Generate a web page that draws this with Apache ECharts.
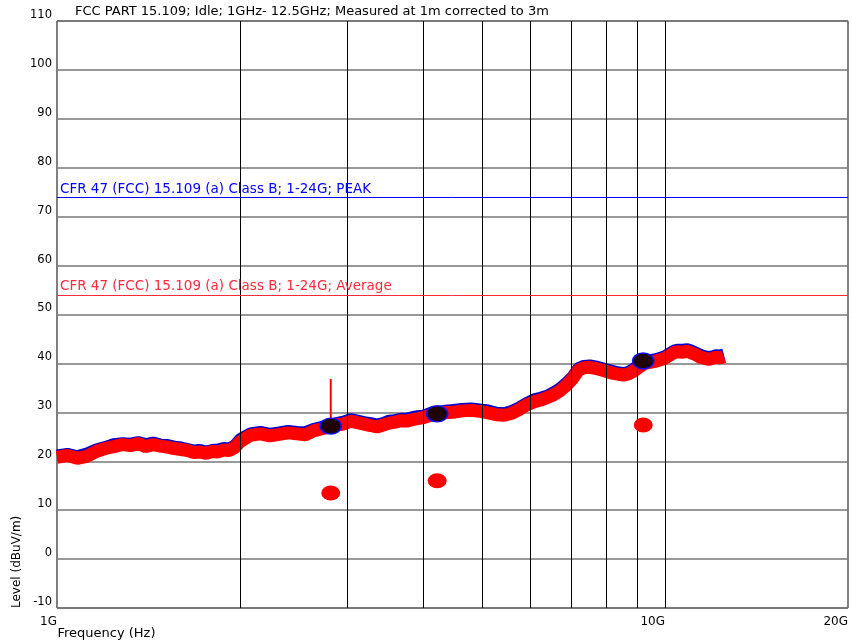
<!DOCTYPE html>
<html><head><meta charset="utf-8">
<script src="https://cdn.jsdelivr.net/npm/echarts@6/dist/echarts.min.js"></script>
<style>html,body{margin:0;padding:0;background:#fff}#c{width:852px;height:640px}</style>
</head><body><div id="c"></div>
<script>
const titleText = 'FCC PART 15.109; Idle; 1GHz- 12.5GHz; Measured at 1m corrected to 3m';
const freqGHz = [
  1.00,1.04,1.08,1.12,1.16,1.20,1.24,1.28,1.32,1.36,1.40,1.44,1.48,1.52,1.56,1.60,1.64,1.68,1.72,1.76,1.80,1.84,1.88,1.92,1.96,2.00,
  2.08,2.16,2.24,2.32,2.40,2.48,2.56,2.64,2.72,2.80,2.88,2.96,3.04,3.12,3.20,3.28,3.36,3.44,3.52,3.60,3.68,3.76,3.84,3.92,4.00,
  4.16,4.32,4.48,4.64,4.80,4.96,5.12,5.28,5.44,5.60,5.76,5.92,6.08,6.24,6.40,6.56,6.72,6.88,7.04,7.20,7.36,7.52,7.68,7.84,8.00,
  8.18,8.36,8.54,8.72,8.90,9.08,9.26,9.44,9.62,9.80,9.98,10.16,10.34,10.52,10.70,10.88,11.06,11.24,11.42,11.60,11.78,11.96,12.14,12.32,12.50
];
const peakScan = [
  21.2,21.5,21.0,21.6,22.4,22.9,23.5,23.7,23.6,23.9,23.5,23.8,23.4,23.3,23.0,22.8,22.5,22.2,22.3,22.0,22.3,22.4,22.7,22.6,23.2,24.5,
  25.7,26.0,25.6,25.9,26.2,26.0,25.9,26.6,27.0,27.4,27.8,28.1,28.6,28.3,28.0,27.8,27.5,27.8,28.3,28.4,28.7,28.7,29.0,29.2,29.3,
  30.1,30.3,30.5,30.7,30.8,30.6,30.4,29.9,29.8,30.3,31.0,31.9,32.6,33.0,33.4,34.1,34.9,36.0,37.2,39.0,39.5,39.6,39.4,39.1,38.8,
  38.5,38.2,38.0,38.3,39.0,39.7,40.4,40.6,40.8,41.1,41.4,42.0,42.6,42.8,42.8,42.9,42.6,42.2,41.8,41.5,41.3,41.4,41.7,41.6,41.8
];
const avgScan = [
  20.8,21.2,20.6,21.0,22.0,22.6,23.0,23.4,23.2,23.6,23.0,23.4,23.1,22.9,22.6,22.4,22.2,21.8,21.9,21.6,22.0,21.9,22.3,22.2,22.8,24.0,
  25.3,25.6,25.2,25.5,25.8,25.6,25.4,26.2,26.6,27.0,27.4,27.6,28.2,27.9,27.6,27.3,27.0,27.4,27.8,28.0,28.3,28.2,28.5,28.7,28.9,
  29.6,29.9,30.0,30.3,30.4,30.2,29.9,29.5,29.4,29.8,30.6,31.5,32.1,32.5,33.0,33.6,34.4,35.5,36.8,38.6,39.1,39.2,39.0,38.7,38.4,
  38.0,37.8,37.6,37.9,38.5,39.3,40.0,40.2,40.4,40.7,41.0,41.6,42.2,42.4,42.3,42.5,42.1,41.8,41.3,41.1,40.8,41.0,41.3,41.1,41.4
];
const markerFreq = [2.82, 4.22, 9.21];
const peakMarkers = [27.2, 29.7, 40.5];
const avgMarkers = [13.5, 16.0, 27.4];
const spikeFreq = 2.82;
const spikeLevels = [27.0, 36.8];
const gridFreqs = [2, 3, 4, 5, 6, 7, 8, 9, 10];
const peakLimit = 74;
const avgLimit = 54;
const peakLimitLabel = 'CFR 47 (FCC) 15.109 (a) Class B; 1-24G; PEAK';
const avgLimitLabel = 'CFR 47 (FCC) 15.109 (a) Class B; 1-24G; Average';
const yMin = -10, yMax = 110, yStep = 10;
const xMin = 1, xMax = 20;
const xAxisName = 'Frequency (Hz)';
const yAxisName = 'Level (dBuV/m)';

const FONT = 'DejaVu Sans';
const pair = (xs, ys) => xs.map((x, i) => [x, ys[i]]);

const chart = echarts.init(document.getElementById('c'), null, {renderer: 'canvas'});
chart.setOption({
  animation: false,
  backgroundColor: '#fff',
  title: {
    text: titleText, left: 75, top: 5, padding: 0,
    textStyle: {fontFamily: FONT, fontSize: 13, fontWeight: 'normal', color: '#000'}
  },
  grid: {
    left: 57, right: 4, top: 21, bottom: 32, show: true, borderColor: '#000', borderWidth: 1,
    backgroundColor: 'transparent', containLabel: false, outerBoundsMode: 'none'
  },
  xAxis: {
    type: 'log', logBase: 10, min: xMin, max: xMax,
    axisLine: {show: false}, axisTick: {show: false}, splitLine: {show: false},
    axisLabel: {
      formatter: v => Math.round(v) + 'G', align: 'right', margin: 8,
      fontFamily: FONT, fontSize: 12, color: '#000', showMaxLabel: true, showMinLabel: true
    },
    name: xAxisName, nameLocation: 'middle', nameGap: 19, nameMoveOverlap: false,
    nameTextStyle: {fontFamily: FONT, fontSize: 13, color: '#000', align: 'right', verticalAlign: 'top', padding: [0, 297, 0, 0]}
  },
  yAxis: {
    type: 'value', min: yMin, max: yMax, interval: yStep,
    axisLine: {show: false}, axisTick: {show: false},
    splitLine: {show: true, lineStyle: {color: '#777', width: 1.5}},
    axisLabel: {fontFamily: FONT, fontSize: 11.5, color: '#000', margin: 5, verticalAlign: 'bottom'},
    name: yAxisName, nameLocation: 'start', nameGap: 0, nameRotate: 90, nameMoveOverlap: false,
    nameTextStyle: {fontFamily: FONT, fontSize: 12, color: '#000', align: 'left', verticalAlign: 'bottom', padding: [0, 0, 34, 0]}
  },
  series: [
    {
      name: 'grid', type: 'line', data: [], z: 1, silent: true,
      markLine: {
        silent: true, symbol: 'none', animation: false,
        label: {show: false},
        lineStyle: {color: '#000', width: 1, type: 'solid'},
        data: gridFreqs.map(f => ({xAxis: f}))
      }
    },
    {
      name: 'peakLimit', type: 'line', data: [], z: 2, silent: true,
      markLine: {
        silent: true, symbol: 'none', animation: false,
        lineStyle: {color: '#0000ff', width: 1, type: 'solid'},
        label: {show: true, position: 'insideStartTop', formatter: peakLimitLabel, color: '#0000ff', fontFamily: FONT, fontSize: 13.5, distance: [3, 1]},
        data: [{yAxis: peakLimit}]
      }
    },
    {
      name: 'avgLimit', type: 'line', data: [], z: 2, silent: true,
      markLine: {
        silent: true, symbol: 'none', animation: false,
        lineStyle: {color: '#ff2a3a', width: 1, type: 'solid'},
        label: {show: true, position: 'insideStartTop', formatter: avgLimitLabel, color: '#ff2a3a', fontFamily: FONT, fontSize: 13.5, distance: [3, 1]},
        data: [{yAxis: avgLimit}]
      }
    },
    {
      name: 'peakScan', type: 'line', data: pair(freqGHz, peakScan), z: 3,
      showSymbol: false, lineStyle: {color: '#0000cc', width: 12, join: 'bevel'}
    },
    {
      name: 'avgScan', type: 'line', data: pair(freqGHz, avgScan), z: 4,
      showSymbol: false, lineStyle: {color: '#ff0000', width: 13, join: 'bevel'}
    },
    {
      name: 'spike', type: 'line', data: spikeLevels.map(v => [spikeFreq, v]), z: 4,
      showSymbol: false, lineStyle: {color: '#ff0000', width: 2}
    },
    {
      name: 'peakMarkers', type: 'scatter', data: pair(markerFreq, peakMarkers), z: 6,
      symbol: 'circle', symbolSize: [21, 16],
      itemStyle: {color: '#1e0204', borderColor: '#1010ff', borderWidth: 1.5, opacity: 1}
    },
    {
      name: 'avgMarkers', type: 'scatter', data: pair(markerFreq, avgMarkers), z: 6,
      symbol: 'circle', symbolSize: [19, 15],
      itemStyle: {color: '#ff0000', opacity: 1}
    }
  ]
});
</script>
</body></html>
